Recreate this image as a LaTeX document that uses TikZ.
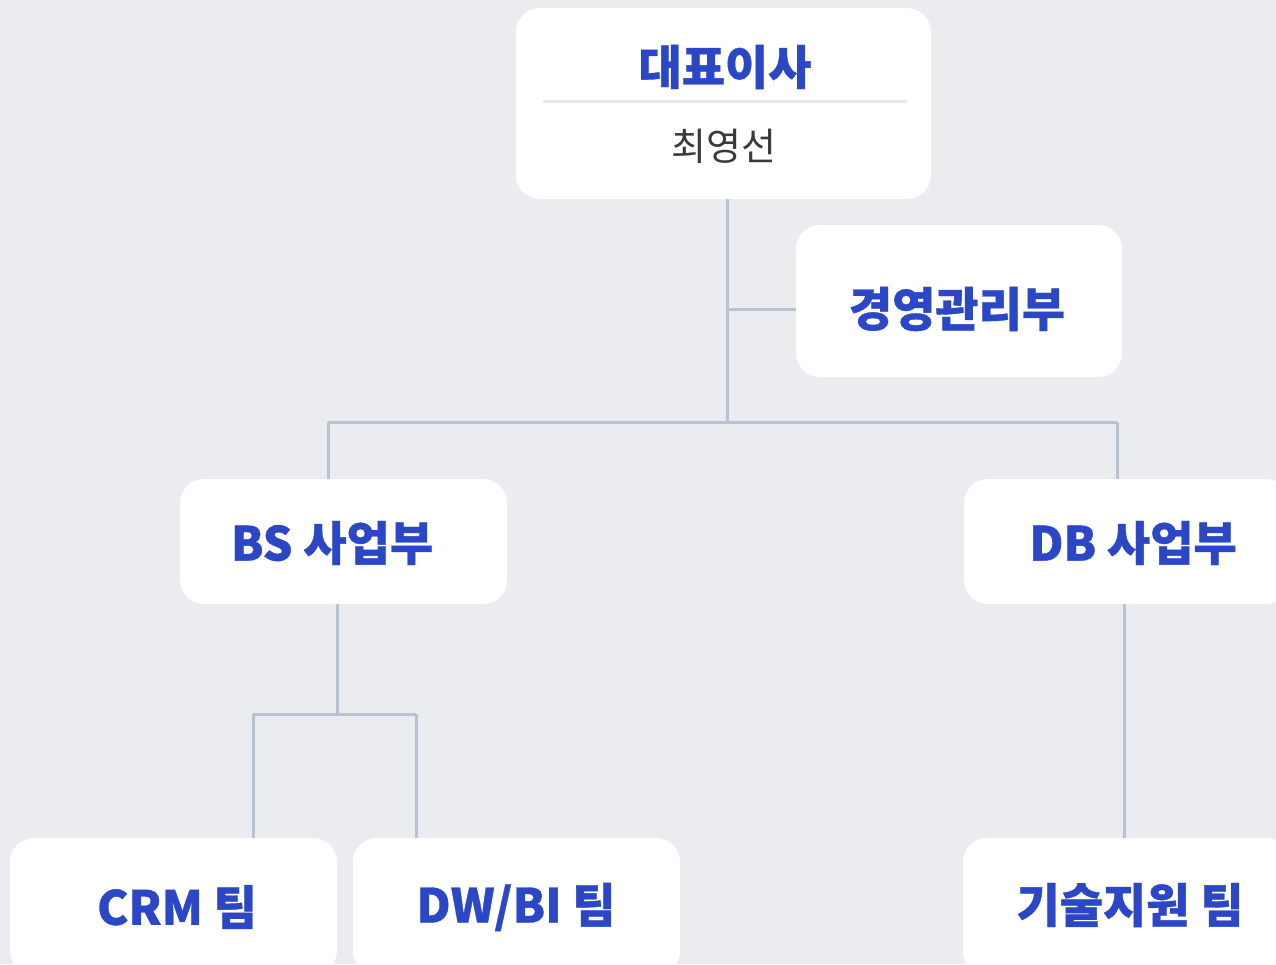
\documentclass[tikz,border=0pt]{standalone}
\usepackage{fontspec}
\setmainfont{Noto Sans CJK KR}[BoldFeatures={FakeBold=0.8}]
\definecolor{bgc}{HTML}{EBECF0}
\definecolor{blu}{HTML}{2C47C6}
\definecolor{linec}{HTML}{B7C2D2}
\definecolor{namec}{HTML}{3A3A3A}
\definecolor{divc}{HTML}{E6E7EB}
\pgfdeclarelayer{bglayer}
\pgfdeclarelayer{connlayer}
\pgfsetlayers{bglayer,connlayer,main}
\tikzset{
  orgbox/.style={fill=white, rounded corners=24pt, inner sep=0pt, draw=none},
  lbl/.style={text=blu, font=\bfseries\fontsize{47}{50}\selectfont, inner sep=0pt},
  conn/.style={draw=linec, line width=3pt}
}
\begin{document}
\begin{tikzpicture}[x=1pt,y=-1pt]
\useasboundingbox (0,0) rectangle (1276,964);
\clip (0,0) rectangle (1276,964);
\begin{pgfonlayer}{bglayer}
\fill[bgc] (0,0) rectangle (1276,964);
\end{pgfonlayer}
% junctions
\coordinate (j1) at (727,309);
\coordinate (j2) at (727,422);
\coordinate (jl) at (328,422);
\coordinate (jr) at (1117,422);
\coordinate (bsj) at (337,714);
\coordinate (bsl) at (253,714);
\coordinate (bsr) at (416,714);
% boxes
\node[orgbox, minimum width=415pt, minimum height=191pt] (ceo) at (723.5,103.5) {};
\node[orgbox, minimum width=326pt, minimum height=152pt] (mgmt) at (959,301) {};
\node[orgbox, minimum width=327pt, minimum height=125pt] (bs) at (343.5,541.5) {};
\node[orgbox, minimum width=326pt, minimum height=125pt] (db) at (1127,541.5) {};
\node[orgbox, minimum width=327pt, minimum height=137pt] (crm) at (173.5,906.5) {};
\node[orgbox, minimum width=327pt, minimum height=137pt] (dw) at (516.5,906.5) {};
\node[orgbox, minimum width=327pt, minimum height=137pt] (tech) at (1126.5,906.5) {};
\coordinate (ceob) at (ceo.south -| j1);
\coordinate (dbb) at (1124,541.5);
\begin{pgfonlayer}{connlayer}
\draw[conn] (ceob) -- (j2);
\draw[conn] (j1) -- (mgmt.west |- j1);
\draw[conn] (jl) -- (jr);
\draw[conn] (jl) -- (jl |- bs.north);
\draw[conn] (jr) -- (jr |- db.north);
\draw[conn] (bs.south -| bsj) -- (bsj);
\draw[conn] (bsl) -- (bsr);
\draw[conn] (bsl) -- (bsl |- crm.north);
\draw[conn] (bsr) -- (bsr |- dw.north);
\draw[conn] (db.south -| dbb) -- (tech.north -| dbb);
\end{pgfonlayer}
\draw[divc, line width=3pt] (543,101) -- (907,101);
% labels
\node[lbl] (ceot) at (725,67) {대표이사};
\node[text=namec, font=\fontsize{38}{42}\selectfont, inner sep=0pt] (ceon) at (724,146) {최영선};
\node[lbl] (mgmtt) at (957,309) {경영관리부};
\node[lbl] (bst) at (332,543) {BS 사업부};
\node[lbl] (dbt) at (1133,543) {DB 사업부};
\node[lbl] (crmt) at (177,907) {CRM 팀};
\node[lbl] (dwt) at (516,907) {DW/BI 팀};
\node[lbl] (techt) at (1130,905) {기술지원 팀};
\end{tikzpicture}
\end{document}
